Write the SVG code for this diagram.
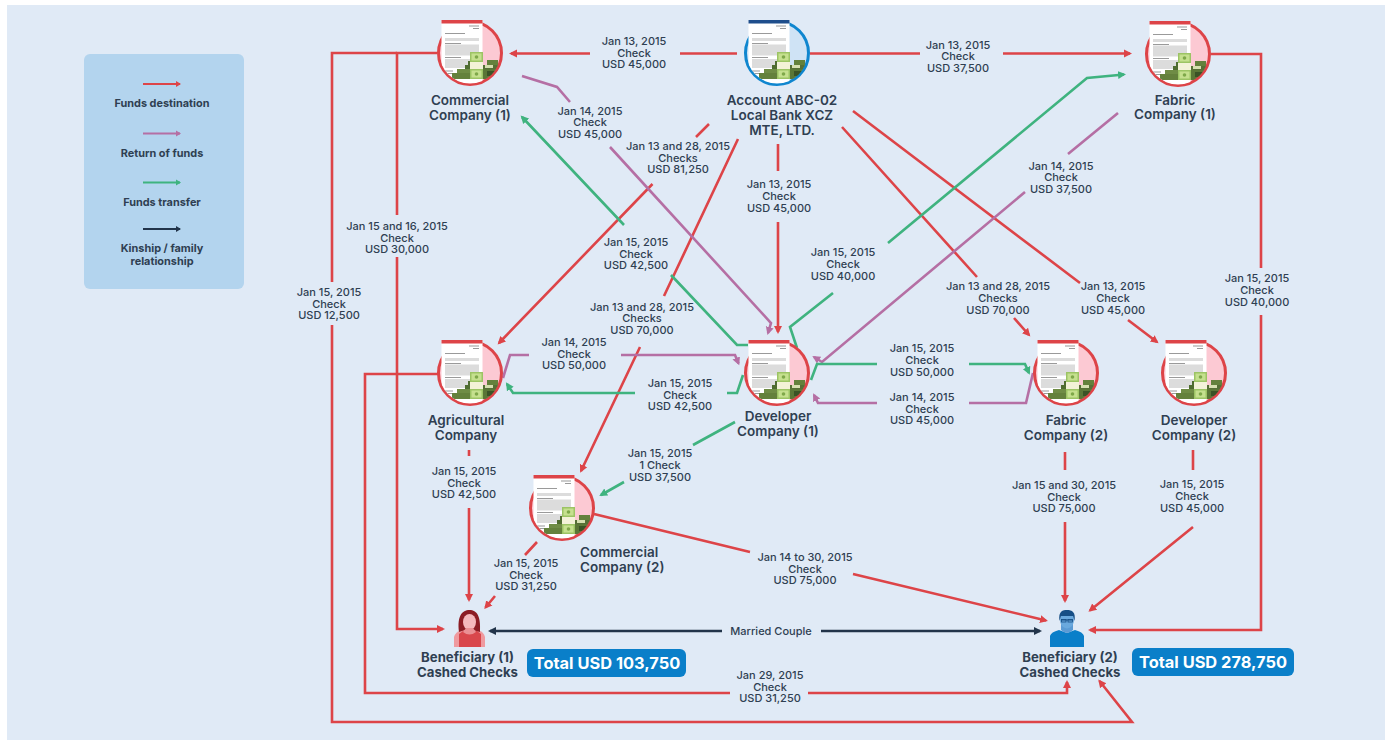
<svg xmlns="http://www.w3.org/2000/svg" width="1385" height="740" viewBox="0 0 1385 740">
<style>
text{font-family:"Inter","Liberation Sans",sans-serif;fill:#2f3f52;text-anchor:middle}
.l{font-size:11px;font-weight:500}
.n{font-size:13.5px;font-weight:600}
.b{font-size:13.2px;font-weight:700}
.lg{font-size:10.9px;font-weight:700}
.t{font-size:16.4px;font-weight:700;fill:#fff}
.c{fill:none;stroke-width:2.6;stroke-linejoin:miter}
.lc{fill:none;stroke-width:2}
.r{stroke:#dd4448}.p{stroke:#b56fa4}.g{stroke:#3fb37f}.d{stroke:#22344a}
.ring{fill:#fcc9d3;stroke:#dd4448;stroke-width:3}
.ringb{fill:#cfe3f5;stroke:#0f86cf;stroke-width:3}
.bar{fill:#dd4448}.barb{fill:#1f4e8c}
.gl{fill:#dcdcdc}.gd{fill:#9a9a9a}
</style>
<defs>
<marker id="mr" markerUnits="userSpaceOnUse" markerWidth="10" markerHeight="10" refX="6" refY="5" orient="auto"><path d="M0,1L8,5L0,9Z" fill="#dd4448"/></marker>
<marker id="mp" markerUnits="userSpaceOnUse" markerWidth="10" markerHeight="10" refX="6" refY="5" orient="auto"><path d="M0,1L8,5L0,9Z" fill="#b56fa4"/></marker>
<marker id="mg" markerUnits="userSpaceOnUse" markerWidth="10" markerHeight="10" refX="6" refY="5" orient="auto"><path d="M0,1L8,5L0,9Z" fill="#3fb37f"/></marker>
<marker id="md" markerUnits="userSpaceOnUse" markerWidth="10" markerHeight="10" refX="6" refY="5" orient="auto"><path d="M0,1L8,5L0,9Z" fill="#22344a"/></marker>
<marker id="lr" markerUnits="userSpaceOnUse" markerWidth="6" markerHeight="8" refX="4" refY="4" orient="auto"><path d="M0,1L5,4L0,7Z" fill="#dd4448"/></marker>
<marker id="lp" markerUnits="userSpaceOnUse" markerWidth="6" markerHeight="8" refX="4" refY="4" orient="auto"><path d="M0,1L5,4L0,7Z" fill="#b56fa4"/></marker>
<marker id="lg" markerUnits="userSpaceOnUse" markerWidth="6" markerHeight="8" refX="4" refY="4" orient="auto"><path d="M0,1L5,4L0,7Z" fill="#3fb37f"/></marker>
<marker id="ld" markerUnits="userSpaceOnUse" markerWidth="6" markerHeight="8" refX="4" refY="4" orient="auto"><path d="M0,1L5,4L0,7Z" fill="#22344a"/></marker>
<clipPath id="docclip"><rect x="-29" y="-34" width="42" height="34"/><circle r="30.5"/></clipPath>
<clipPath id="monclip"><circle r="30.5"/></clipPath>
<g id="art">
<g clip-path="url(#docclip)">
<rect x="-28.5" y="-33" width="41" height="64" fill="#fff"/>
<rect class="gd" x="-1" y="-27.5" width="10" height="1"/><rect class="gd" x="3" y="-25" width="6" height="1"/>
<rect class="gd" x="-25" y="-20" width="20" height="1"/><rect class="gl" x="-25" y="-15" width="34" height="3"/>
<rect class="gd" x="-25" y="-10" width="16" height="1"/><rect class="gl" x="-25" y="-8.5" width="34" height="11"/>
<rect class="gd" x="-25" y="4" width="16" height="1"/><rect class="gl" x="-25" y="6" width="26" height="9"/>
<rect class="gd" x="-25" y="17.5" width="8" height="1"/><rect class="gd" x="-25" y="20" width="8" height="1"/>
</g>
<g clip-path="url(#monclip)">
<rect x="-18" y="20" width="18" height="6" fill="#64813c"/><rect x="-13" y="16" width="13" height="4" fill="#6f8c45"/>
<rect x="-5" y="12" width="5" height="4" fill="#4f6c30"/><rect x="-2" y="8" width="2" height="4" fill="#4f6c30"/>
<rect x="17" y="7" width="11" height="5" fill="#64813c"/><rect x="13" y="12" width="17" height="4" fill="#566f36"/><rect x="15" y="12" width="8" height="3" fill="#d6dfb0"/>
<rect x="13" y="16" width="15" height="10" fill="#5a7636"/><rect x="17" y="18" width="8" height="5" fill="#3a5326"/>
</g>
<rect x="0" y="-1" width="13" height="27" fill="#9cc464"/>
<rect x="1.5" y="0.5" width="10" height="7" fill="#c5e08e"/><circle cx="6.5" cy="4" r="1.8" fill="#7fa84a"/>
<rect x="1.5" y="17.5" width="10" height="7" fill="#c5e08e"/><circle cx="6.5" cy="21" r="1.8" fill="#7fa84a"/>
<rect x="0" y="9" width="13" height="7" fill="#f3f2d8"/>
</g>
</defs>
<rect width="1385" height="740" fill="#fff"/>
<rect x="7" y="5" width="1378" height="735" fill="#e0eaf6"/>

<g id="legend">
<rect x="84" y="54" width="160" height="235" rx="6" fill="#b3d4ee"/>
<path class="lc r" d="M143,84H180" marker-end="url(#lr)"/>
<path class="lc p" d="M143,133.500H180" marker-end="url(#lp)"/>
<path class="lc g" d="M143,182.500H180" marker-end="url(#lg)"/>
<path class="lc d" d="M143,229H180" marker-end="url(#ld)"/>
<text class="lg" x="162" y="107">Funds destination</text>
<text class="lg" x="162" y="157">Return of funds</text>
<text class="lg" x="162" y="206">Funds transfer</text>
<text class="lg" x="162" y="252">Kinship / family</text>
<text class="lg" x="162" y="265">relationship</text>
</g>

<g id="connectors">
<path class="c r" d="M737,53.500H680M590,53.500H511" marker-end="url(#mr)"/>
<path class="c r" d="M810,53.500H920M1003,53.500H1130" marker-end="url(#mr)"/>
<path class="c r" d="M709,124L696,137M652.500,184L499,343" marker-end="url(#mr)"/>
<path class="c r" d="M738,139L664,296M640,347L581,471" marker-end="url(#mr)"/>
<path class="c r" d="M778,144V171M778,222V332" marker-end="url(#mr)"/>
<path class="c r" d="M842,127L977,277M1014,318L1029,335" marker-end="url(#mr)"/>
<path class="c r" d="M853,111L1080,283M1128,320L1157,342" marker-end="url(#mr)"/>
<path class="c r" d="M1211,54H1261V268M1261,315V630H1090" marker-end="url(#mr)"/>
<path class="c r" d="M437,53H397V215M397,257V629H443" marker-end="url(#mr)"/>
<path class="c r" d="M397,53H332V282M332,325V722H1132L1099.500,681" marker-end="url(#mr)"/>
<path class="c r" d="M438,374H365V693H730M808,693H1067V682" marker-end="url(#mr)"/>
<path class="c r" d="M469,450V456M469,508V600" marker-end="url(#mr)"/>
<path class="c r" d="M537,542L525,555M495,596L485.500,607.500" marker-end="url(#mr)"/>
<path class="c r" d="M594,514L750,552M853,574L1046,620.500" marker-end="url(#mr)"/>
<path class="c r" d="M1065,452V470M1065,522V601" marker-end="url(#mr)"/>
<path class="c r" d="M1193,450V470M1193,527L1090,610.500" marker-end="url(#mr)"/>
<path class="c p" d="M522,76L557,87L570,102M610,147L771,323L768,333" marker-end="url(#mp)"/>
<path class="c p" d="M1118,113L1068,154M1025,192L822,362L814,357" marker-end="url(#mp)"/>
<path class="c p" d="M503,378L510,355H529M621,355H735L738.500,363.500" marker-end="url(#mp)"/>
<path class="c p" d="M1033,373L1026,403H969M877,403H818L814,395" marker-end="url(#mp)"/>
<path class="c g" d="M748,345H737L671,275M624,225L522,117" marker-end="url(#mg)"/>
<path class="c g" d="M797,348L790,327L833,293M888,243L1087,78L1124,74.500" marker-end="url(#mg)"/>
<path class="c g" d="M743,375L737,393H727M635,393H513L507,384" marker-end="url(#mg)"/>
<path class="c g" d="M811,380L817,364H877M969,364H1025L1029,373" marker-end="url(#mg)"/>
<path class="c g" d="M735,422L693,445M624,482L601,495" marker-end="url(#mg)"/>
<path class="c d" d="M722,631H490" marker-end="url(#md)"/>
<path class="c d" d="M821,631H1040" marker-end="url(#md)"/>
</g>

<g id="labels">
<text class="l"><tspan x="634" y="45">Jan 13, 2015</tspan><tspan x="634" y="57">Check</tspan><tspan x="634" y="68">USD 45,000</tspan></text>
<text class="l"><tspan x="958" y="49">Jan 13, 2015</tspan><tspan x="958" y="60">Check</tspan><tspan x="958" y="72">USD 37,500</tspan></text>
<text class="l"><tspan x="590" y="115">Jan 14, 2015</tspan><tspan x="590" y="126">Check</tspan><tspan x="590" y="138">USD 45,000</tspan></text>
<text class="l"><tspan x="678" y="150">Jan 13 and 28, 2015</tspan><tspan x="678" y="162">Checks</tspan><tspan x="678" y="173">USD 81,250</tspan></text>
<text class="l"><tspan x="779" y="188">Jan 13, 2015</tspan><tspan x="779" y="200">Check</tspan><tspan x="779" y="212">USD 45,000</tspan></text>
<text class="l"><tspan x="397" y="230">Jan 15 and 16, 2015</tspan><tspan x="397" y="242">Check</tspan><tspan x="397" y="253">USD 30,000</tspan></text>
<text class="l"><tspan x="329" y="296">Jan 15, 2015</tspan><tspan x="329" y="308">Check</tspan><tspan x="329" y="319">USD 12,500</tspan></text>
<text class="l"><tspan x="636" y="246">Jan 15, 2015</tspan><tspan x="636" y="258">Check</tspan><tspan x="636" y="269">USD 42,500</tspan></text>
<text class="l"><tspan x="1061" y="170">Jan 14, 2015</tspan><tspan x="1061" y="181">Check</tspan><tspan x="1061" y="193">USD 37,500</tspan></text>
<text class="l"><tspan x="843" y="256">Jan 15, 2015</tspan><tspan x="843" y="268">Check</tspan><tspan x="843" y="280">USD 40,000</tspan></text>
<text class="l"><tspan x="642" y="311">Jan 13 and 28, 2015</tspan><tspan x="642" y="322">Checks</tspan><tspan x="642" y="334">USD 70,000</tspan></text>
<text class="l"><tspan x="998" y="290">Jan 13 and 28, 2015</tspan><tspan x="998" y="302">Checks</tspan><tspan x="998" y="314">USD 70,000</tspan></text>
<text class="l"><tspan x="1113" y="290">Jan 13, 2015</tspan><tspan x="1113" y="302">Check</tspan><tspan x="1113" y="314">USD 45,000</tspan></text>
<text class="l"><tspan x="1257" y="282">Jan 15, 2015</tspan><tspan x="1257" y="294">Check</tspan><tspan x="1257" y="306">USD 40,000</tspan></text>
<text class="l"><tspan x="574" y="346">Jan 14, 2015</tspan><tspan x="574" y="358">Check</tspan><tspan x="574" y="369">USD 50,000</tspan></text>
<text class="l"><tspan x="680" y="387">Jan 15, 2015</tspan><tspan x="680" y="399">Check</tspan><tspan x="680" y="410">USD 42,500</tspan></text>
<text class="l"><tspan x="922" y="352">Jan 15, 2015</tspan><tspan x="922" y="364">Check</tspan><tspan x="922" y="376">USD 50,000</tspan></text>
<text class="l"><tspan x="922" y="401">Jan 14, 2015</tspan><tspan x="922" y="413">Check</tspan><tspan x="922" y="424">USD 45,000</tspan></text>
<text class="l"><tspan x="464" y="475">Jan 15, 2015</tspan><tspan x="464" y="487">Check</tspan><tspan x="464" y="498">USD 42,500</tspan></text>
<text class="l"><tspan x="660" y="457">Jan 15, 2015</tspan><tspan x="660" y="469">1 Check</tspan><tspan x="660" y="481">USD 37,500</tspan></text>
<text class="l"><tspan x="526" y="567">Jan 15, 2015</tspan><tspan x="526" y="579">Check</tspan><tspan x="526" y="590">USD 31,250</tspan></text>
<text class="l"><tspan x="805" y="561">Jan 14 to 30, 2015</tspan><tspan x="805" y="573">Check</tspan><tspan x="805" y="584">USD 75,000</tspan></text>
<text class="l"><tspan x="1064" y="489">Jan 15 and 30, 2015</tspan><tspan x="1064" y="501">Check</tspan><tspan x="1064" y="512">USD 75,000</tspan></text>
<text class="l"><tspan x="1192" y="488">Jan 15, 2015</tspan><tspan x="1192" y="500">Check</tspan><tspan x="1192" y="512">USD 45,000</tspan></text>
<text class="l"><tspan x="770" y="679">Jan 29, 2015</tspan><tspan x="770" y="691">Check</tspan><tspan x="770" y="702">USD 31,250</tspan></text>
<text class="l" x="771" y="635">Married Couple</text>
</g>

<g id="commercial-1"><g transform="translate(470,53)"><circle class="ring" r="31.500"/><use href="#art"/><rect class="bar" x="-28.500" y="-33" width="41" height="3.500"/></g>
<text class="n"><tspan x="470" y="105">Commercial</tspan><tspan x="470" y="120">Company (1)</tspan></text></g>
<g id="account"><g transform="translate(777,53)"><circle class="ringb" r="31.500"/><use href="#art"/><rect class="barb" x="-28.500" y="-33" width="41" height="3.500"/></g>
<text class="n"><tspan x="782" y="105">Account ABC-02</tspan><tspan x="782" y="120">Local Bank XCZ</tspan><tspan x="782" y="135">MTE, LTD.</tspan></text></g>
<g id="fabric-1"><g transform="translate(1178,54)"><circle class="ring" r="31.500"/><use href="#art"/><rect class="bar" x="-28.500" y="-33" width="41" height="3.500"/></g>
<text class="n"><tspan x="1175" y="105">Fabric</tspan><tspan x="1175" y="119">Company (1)</tspan></text></g>
<g id="agricultural"><g transform="translate(470,373)"><circle class="ring" r="31.500"/><use href="#art"/><rect class="bar" x="-28.500" y="-33" width="41" height="3.500"/></g>
<text class="n"><tspan x="466" y="425">Agricultural</tspan><tspan x="466" y="440">Company</tspan></text></g>
<g id="developer-1"><g transform="translate(777,373)"><circle class="ring" r="31.500"/><use href="#art"/><rect class="bar" x="-28.500" y="-33" width="41" height="3.500"/></g>
<text class="n"><tspan x="778" y="421">Developer</tspan><tspan x="778" y="436">Company (1)</tspan></text></g>
<g id="fabric-2"><g transform="translate(1066,373)"><circle class="ring" r="31.500"/><use href="#art"/><rect class="bar" x="-28.500" y="-33" width="41" height="3.500"/></g>
<text class="n"><tspan x="1066" y="425">Fabric</tspan><tspan x="1066" y="440">Company (2)</tspan></text></g>
<g id="developer-2"><g transform="translate(1194,373)"><circle class="ring" r="31.500"/><use href="#art"/><rect class="bar" x="-28.500" y="-33" width="41" height="3.500"/></g>
<text class="n"><tspan x="1194" y="425">Developer</tspan><tspan x="1194" y="440">Company (2)</tspan></text></g>
<g id="commercial-2"><g transform="translate(562,508)"><circle class="ring" r="31.500"/><use href="#art"/><rect class="bar" x="-28.500" y="-33" width="41" height="3.500"/></g>
<text class="n" style="text-anchor:start"><tspan x="580" y="557">Commercial</tspan><tspan x="580" y="572">Company (2)</tspan></text></g>

<g id="beneficiary-1">
<path d="M454,647V637Q455,632 462,630L478,630Q484,632 485,637V647Z" fill="#ef9a9f"/>
<path d="M459,647V634L463,631H477L481,634V647Z" fill="#d9474c"/>
<path d="M459,632C457,616 462,610 469.500,610C477,610 481,616 480,632L473,630H465Z" fill="#8c1c24"/>
<ellipse cx="469.500" cy="622" rx="6.500" ry="8" fill="#f5b8bc"/>
<path d="M463,632L466,628H473L476,632Q469.500,637 463,632Z" fill="#ea9094"/>
<text class="b"><tspan x="467.500" y="662">Beneficiary (1)</tspan><tspan x="467.500" y="677">Cashed Checks</tspan></text>
</g>
<g id="total-1"><rect x="527" y="649" width="159" height="28" rx="6" fill="#0a7fc9"/><text class="t" x="607" y="669">Total USD 103,750</text></g>
<g id="beneficiary-2">
<path d="M1050,647V636Q1051,632 1059,630L1067,633L1075,630Q1083,632 1084,636V647Z" fill="#0a7fc9"/>
<path d="M1061,624H1073V630Q1067,636 1061,630Z" fill="#5b9bd5"/>
<ellipse cx="1067" cy="620" rx="7" ry="8.500" fill="#6aa9de"/>
<path d="M1059.500,621C1058,611 1063,610 1067,610C1072,610 1076,612 1074.500,621L1073,616H1061Z" fill="#174f86"/>
<path d="M1061,620H1073M1067,620" stroke="#174f86" stroke-width="1" fill="none"/>
<rect x="1061.500" y="619.500" width="4.500" height="2.500" fill="none" stroke="#174f86" stroke-width="0.800"/>
<rect x="1068" y="619.500" width="4.500" height="2.500" fill="none" stroke="#174f86" stroke-width="0.800"/>
<text class="b"><tspan x="1070" y="662">Beneficiary (2)</tspan><tspan x="1070" y="677">Cashed Checks</tspan></text>
</g>
<g id="total-2"><rect x="1132" y="648" width="162" height="28" rx="6" fill="#0a7fc9"/><text class="t" x="1213" y="668">Total USD 278,750</text></g>
</svg>
